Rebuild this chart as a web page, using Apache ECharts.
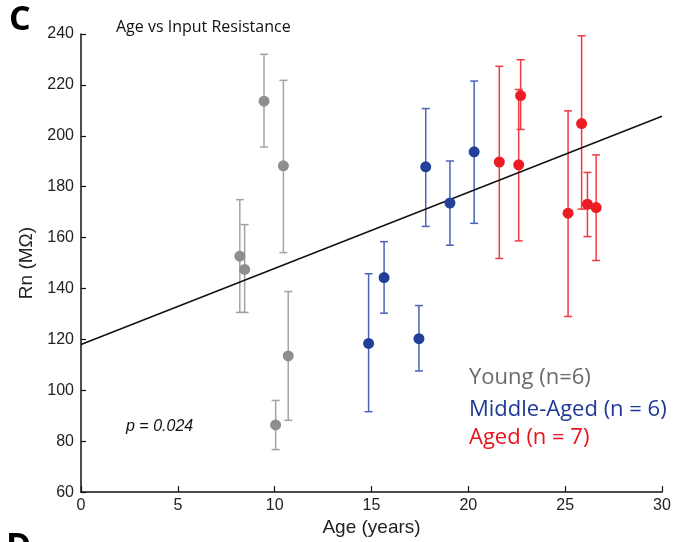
<!DOCTYPE html>
<html><head><meta charset="utf-8">
<script src="https://cdn.jsdelivr.net/npm/echarts@6/dist/echarts.min.js"></script>
<style>html,body{margin:0;padding:0;background:#fff}#c{width:686px;height:542px}</style>
</head><body><div id="c"></div>
<script>
const youngAge  = [8.2, 8.45, 9.45, 10.45, 10.7, 10.05];
const youngRn   = [152.7, 147.5, 213.6, 188.2, 113.5, 86.4];
const youngLow  = [130.6, 130.6, 195.6, 154.1, 88.2, 76.7];
const youngHigh = [174.9, 165.1, 232.0, 221.8, 138.8, 96.0];

const midAge  = [14.85, 15.65, 17.8, 17.45, 19.05, 20.3];
const midRn   = [118.4, 144.3, 187.8, 120.3, 173.6, 193.7];
const midLow  = [91.6, 130.3, 164.4, 107.6, 157.0, 165.6];
const midHigh = [145.8, 158.4, 210.7, 133.3, 190.1, 221.5];

const agedAge  = [21.6, 22.7, 22.6, 25.15, 25.85, 26.15, 26.6];
const agedRn   = [189.7, 215.8, 188.6, 169.6, 204.8, 173.1, 171.8];
const agedLow  = [151.8, 202.5, 158.7, 129.0, 171.2, 160.4, 151.0];
const agedHigh = [227.3, 229.9, 218.2, 209.8, 239.3, 185.6, 192.5];

const fitAge = [0, 30];
const fitRn  = [118.0, 207.7];

const xTicks = [0, 5, 10, 15, 20, 25, 30];
const yTicks = [60, 80, 100, 120, 140, 160, 180, 200, 220, 240];

const groups = [
  {name:'Young (n=6)', age:youngAge, rn:youngRn, lo:youngLow, hi:youngHigh, dot:'#8e8e8e', bar:'#a3a3a3', txt:'#6a6a6a'},
  {name:'Middle-Aged (n = 6)', age:midAge, rn:midRn, lo:midLow, hi:midHigh, dot:'#22409a', bar:'#4a63b8', txt:'#1e3a96'},
  {name:'Aged (n = 7)', age:agedAge, rn:agedRn, lo:agedLow, hi:agedHigh, dot:'#ec1c24', bar:'#ee3a40', txt:'#e8141c'}
];

const series = [];
groups.forEach(g => {
  series.push({
    type:'custom', name:g.name+' err', silent:true, z:2,
    data: g.age.map((a,i)=>[a, g.lo[i], g.hi[i]]),
    renderItem: function(params, api){
      const p1 = api.coord([api.value(0), api.value(1)]);
      const p2 = api.coord([api.value(0), api.value(2)]);
      const w = 4;
      const st = {stroke:g.bar, lineWidth:1.5};
      return {type:'group', children:[
        {type:'line', shape:{x1:p1[0],y1:p1[1],x2:p2[0],y2:p2[1]}, style:st},
        {type:'line', shape:{x1:p1[0]-w,y1:p1[1],x2:p1[0]+w,y2:p1[1]}, style:st},
        {type:'line', shape:{x1:p2[0]-w,y1:p2[1],x2:p2[0]+w,y2:p2[1]}, style:st}
      ]};
    }
  });
  series.push({
    type:'scatter', name:g.name, z:4,
    symbolSize:11,
    itemStyle:{color:g.dot, opacity:1},
    data: g.age.map((a,i)=>[a, g.rn[i]])
  });
});
series.push({
  type:'line', z:3, symbol:'none', silent:true,
  lineStyle:{color:'#111', width:1.5},
  data: fitAge.map((a,i)=>[a, fitRn[i]])
});

const chart = echarts.init(document.getElementById('c'), null, {renderer:'canvas'});
const lbl = {fontFamily:'Liberation Sans, Arial, sans-serif', fontSize:16, color:'#222'};
chart.setOption({
  animation:false,
  backgroundColor:'#fff',
  grid:{left:81, right:24, top:34, bottom:49, containLabel:false},
  xAxis:{
    type:'value', min:0, max:30, interval:5,
    axisLine:{show:true, onZero:false, lineStyle:{color:'#111', width:1.5}},
    axisTick:{show:true, inside:true, length:6, lineStyle:{color:'#111', width:1.2}},
    axisLabel:Object.assign({margin:5, formatter:v=>xTicks.includes(v)?String(v):''}, lbl),
    splitLine:{show:false},
    name:'Age (years)', nameLocation:'middle', nameGap:22,
    nameTextStyle:Object.assign({}, lbl, {fontSize:19})
  },
  yAxis:{
    type:'value', min:60, max:240, interval:20,
    axisLine:{show:true, onZero:false, lineStyle:{color:'#111', width:1.5}},
    axisTick:{show:true, inside:true, length:5, lineStyle:{color:'#111', width:1.2}},
    axisLabel:Object.assign({margin:7, formatter:v=>yTicks.includes(v)?String(v):''}, lbl),
    splitLine:{show:false},
    name:'Rn (MΩ)', nameLocation:'middle', nameGap:39,
    nameTextStyle:Object.assign({}, lbl, {fontSize:19})
  },
  graphic:[
    {type:'text', left:9, top:3, style:{text:'C', font:'bold 34px "Open Sans", "DejaVu Sans", sans-serif', fill:'#000'}},
    {type:'text', left:116, top:19, style:{text:'Age vs Input Resistance', font:'16px "Open Sans", "Noto Sans", sans-serif', fill:'#111'}},
    {type:'text', left:126, top:419, style:{text:'p = 0.024', font:'italic 16px "Liberation Sans", Arial, sans-serif', fill:'#111'}},
    {type:'text', left:469, top:367, style:{text:groups[0].name, font:'22px "Open Sans", "Noto Sans", sans-serif', fill:groups[0].txt}},
    {type:'text', left:469, top:399, style:{text:groups[1].name, font:'22px "Open Sans", "Noto Sans", sans-serif', fill:groups[1].txt}},
    {type:'text', left:469, top:427, style:{text:groups[2].name, font:'22px "Open Sans", "Noto Sans", sans-serif', fill:groups[2].txt}},
    {type:'text', left:6, top:530, style:{text:'D', font:'bold 34px "Open Sans", "DejaVu Sans", sans-serif', fill:'#000'}}
  ],
  series: series
});
</script>
</body></html>
